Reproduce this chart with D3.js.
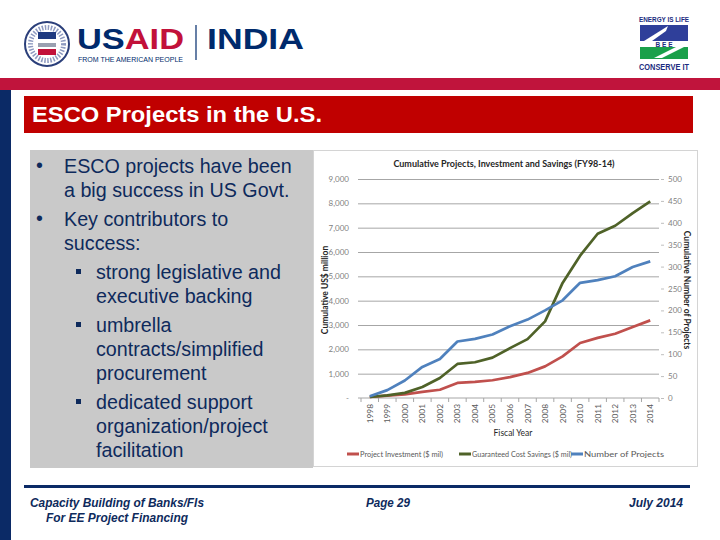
<!DOCTYPE html>
<html>
<head>
<meta charset="utf-8">
<script src="https://cdn.jsdelivr.net/npm/d3@7"></script>
<style>
  body { margin: 0; background: #fff; }
  svg { display: block; }
</style>
</head>
<body>
<div id="slide"></div>
<script>
// chart values
const years = ["1998", "1999", "2000", "2001", "2002", "2003", "2004", "2005", "2006",
  "2007", "2008", "2009", "2010", "2011", "2012", "2013", "2014"];
const investment = [40, 100, 150, 250, 340, 620, 660, 730, 860, 1030, 1300, 1710, 2260, 2470, 2640, 2920, 3190];
const savings = [40, 110, 210, 450, 820, 1400, 1470, 1660, 2050, 2420, 3150, 4730, 5850, 6750, 7080, 7600, 8080];
const projects = [4, 18, 40, 71, 89, 129, 135, 145, 164, 179, 200, 223, 263, 269, 278, 299, 312];
const leftTicks = [0, 1000, 2000, 3000, 4000, 5000, 6000, 7000, 8000, 9000];
const rightTicks = [0, 50, 100, 150, 200, 250, 300, 350, 400, 450, 500];
const seriesNames = ["Project Investment ($ mil)", "Guaranteed Cost Savings ($ mil)", "Number of Projects"];
const seriesColors = ["#c0504d", "#4f6228", "#4f81bd"];

const bullets = [
  { level: 1, lines: ["ESCO projects have been", "a big success in US Govt."] },
  { level: 1, lines: ["Key contributors to", "success:"] },
  { level: 2, lines: ["strong legislative and", "executive backing"] },
  { level: 2, lines: ["umbrella", "contracts/simplified", "procurement"] },
  { level: 2, lines: ["dedicated support", "organization/project", "facilitation"] }
];

const navy = "#0e2a5c";
const arial = "Arial, 'Liberation Sans', sans-serif";

const svg = d3.select("#slide").append("svg")
  .attr("width", 720).attr("height", 540);

// ---------- header ----------
const head = svg.append("g");
// seal
head.append("circle").attr("cx", 47).attr("cy", 44).attr("r", 22)
  .attr("fill", "#fff").attr("stroke", "#2b3f7a").attr("stroke-width", 2);
head.append("circle").attr("cx", 47).attr("cy", 44).attr("r", 16.5)
  .attr("fill", "none").attr("stroke", "#8e9ac0").attr("stroke-width", 5).attr("stroke-dasharray", "1.5 1.5");
head.append("rect").attr("x", 38).attr("y", 32).attr("width", 18).attr("height", 7).attr("fill", "#1f3a80");
head.append("rect").attr("x", 38).attr("y", 43).attr("width", 18).attr("height", 4).attr("fill", "#9aa0b0");
head.append("rect").attr("x", 38).attr("y", 49).attr("width", 18).attr("height", 6).attr("fill", "#c2113a");
head.append("text").attr("x", 77).attr("y", 49)
  .attr("textLength", 107).attr("lengthAdjust", "spacingAndGlyphs")
  .style("font-family", arial).style("font-weight", "bold").style("font-size", "30px")
  .call(t => {
    t.append("tspan").attr("fill", "#002a6c").text("US");
    t.append("tspan").attr("fill", "#c2113a").text("AID");
  });
head.append("text").attr("x", 78).attr("y", 62)
  .attr("textLength", 105).attr("lengthAdjust", "spacingAndGlyphs")
  .style("font-family", arial).style("font-size", "6.5px")
  .attr("fill", "#002a6c").text("FROM THE AMERICAN PEOPLE");
head.append("line").attr("x1", 196).attr("x2", 196).attr("y1", 25).attr("y2", 60)
  .attr("stroke", "#002a6c").attr("stroke-width", 1.2);
head.append("text").attr("x", 207).attr("y", 49)
  .attr("textLength", 97).attr("lengthAdjust", "spacingAndGlyphs")
  .style("font-family", arial).style("font-weight", "bold")
  .style("font-size", "30px").attr("fill", "#002a6c").text("INDIA");

// BEE logo
const bee = svg.append("g");
bee.append("text").attr("x", 664).attr("y", 22).attr("text-anchor", "middle")
  .attr("textLength", 50).attr("lengthAdjust", "spacingAndGlyphs")
  .style("font-family", arial).style("font-weight", "bold")
  .style("font-size", "8px").attr("fill", "#1c2c80").text("ENERGY IS LIFE");
bee.append("rect").attr("x", 640).attr("y", 25).attr("width", 48).attr("height", 16).attr("fill", "#2f3f9a");
bee.append("rect").attr("x", 640).attr("y", 41).attr("width", 48).attr("height", 6).attr("fill", "#fff");
bee.append("rect").attr("x", 640).attr("y", 47).attr("width", 48).attr("height", 12).attr("fill", "#1aa04a");
bee.append("path").attr("d", "M668,26 L644,41 L652,41 L666,31 Z").attr("fill", "#fff");
bee.append("path").attr("d", "M676,47 L654,58 L662,58 L684,47 Z").attr("fill", "#fff");
bee.append("text").attr("x", 664).attr("y", 46.5).attr("text-anchor", "middle")
  .style("font-family", arial).style("font-weight", "bold").style("font-size", "6.5px")
  .attr("fill", "#1c2c80").text("B E E");
bee.append("text").attr("x", 664).attr("y", 70).attr("text-anchor", "middle")
  .attr("textLength", 50).attr("lengthAdjust", "spacingAndGlyphs")
  .style("font-family", arial).style("font-weight", "bold")
  .style("font-size", "8.5px").attr("fill", "#1c2c80").text("CONSERVE IT");

// red band, navy side bar, title box
svg.append("rect").attr("x", 0).attr("y", 78).attr("width", 720).attr("height", 12).attr("fill", "#c0143c");
svg.append("rect").attr("x", 0).attr("y", 90).attr("width", 11).attr("height", 450).attr("fill", "#0b2a66");
svg.append("rect").attr("x", 24).attr("y", 96).attr("width", 669).attr("height", 37).attr("fill", "#c00000");
svg.append("text").attr("x", 32).attr("y", 122)
  .attr("textLength", 290).attr("lengthAdjust", "spacingAndGlyphs")
  .style("font-family", arial).style("font-size", "22px")
  .style("font-weight", "bold").attr("fill", "#fff").text("ESCO Projects in the U.S.");

// ---------- bullet panel ----------
svg.append("rect").attr("x", 30).attr("y", 150).attr("width", 283).attr("height", 318).attr("fill", "#c9c9c9");
const txt = svg.append("g")
  .style("font-family", arial).style("font-size", "19.7px").attr("fill", navy);
let yy = 173;
bullets.forEach((b, i) => {
  if (i > 0) yy += 5;
  if (b.level === 1) {
    txt.append("text").attr("x", 36).attr("y", yy - 1).text("•");
  } else {
    txt.append("rect").attr("x", 76).attr("y", yy - 10).attr("width", 5).attr("height", 5).attr("fill", navy);
  }
  b.lines.forEach(l => {
    txt.append("text").attr("x", b.level === 1 ? 64 : 96).attr("y", yy).text(l);
    yy += 24;
  });
});

// ---------- chart ----------
svg.append("rect").attr("x", 313.5).attr("y", 150.5).attr("width", 384).attr("height", 316)
  .attr("fill", "#fff").attr("stroke", "#d4d4d4");

const chartFont = "Lato, 'Open Sans', sans-serif";
const x = d3.scalePoint().domain(years).range([361, 659]).padding(0.5);
const yL = d3.scaleLinear().domain([0, 9000]).range([398, 179]);
const yR = d3.scaleLinear().domain([0, 500]).range([398, 179]);
const left = 358, right = 659;

// gridlines
svg.append("g").attr("transform", `translate(${left},0)`)
  .call(d3.axisLeft(yL).tickValues(leftTicks.slice(1)).tickSize(-(right - left)).tickFormat(""))
  .call(g => g.select(".domain").remove())
  .call(g => g.selectAll("line").attr("stroke", "#a6a6a6"));

// left axis labels
svg.append("g").attr("transform", `translate(${left - 6},0)`)
  .call(d3.axisLeft(yL).tickValues(leftTicks).tickSize(0)
    .tickFormat(d => d === 0 ? "-" : d3.format(",")(d)))
  .call(g => g.select(".domain").remove())
  .call(g => g.selectAll("text").attr("fill", "#7f7f7f").style("font-family", chartFont).style("font-size", "8px"));

// right axis
svg.append("g").attr("transform", `translate(${right + 2},0)`)
  .call(d3.axisRight(yR).tickValues(rightTicks).tickSize(3).tickPadding(4))
  .call(g => g.select(".domain").remove())
  .call(g => g.selectAll("line").attr("stroke", "#bfbfbf"))
  .call(g => g.selectAll("text").attr("fill", "#7f7f7f").style("font-family", chartFont).style("font-size", "8px"));

// x axis baseline, category ticks, labels
svg.append("line").attr("x1", left).attr("x2", right).attr("y1", yL(0)).attr("y2", yL(0)).attr("stroke", "#a6a6a6");
svg.append("g").selectAll("line").data(years.concat(["end"])).join("line")
  .attr("x1", (d, i) => x(years[0]) + (i - 0.5) * x.step())
  .attr("x2", (d, i) => x(years[0]) + (i - 0.5) * x.step())
  .attr("y1", yL(0)).attr("y2", yL(0) + 4).attr("stroke", "#a6a6a6");
svg.append("g").selectAll("text").data(years).join("text")
  .attr("transform", d => `translate(${x(d) + 3},404) rotate(-90)`)
  .attr("text-anchor", "end")
  .style("font-family", chartFont).style("font-size", "8.3px").attr("fill", "#595959")
  .text(d => d);

// series lines
const series = [investment, savings, projects];
const scales = [yL, yL, yR];
series.forEach((vals, s) => {
  const line = d3.line().x((d, i) => x(years[i])).y(d => scales[s](d));
  svg.append("path").datum(vals).attr("d", line)
    .attr("fill", "none").attr("stroke", seriesColors[s]).attr("stroke-width", 2.7)
    .attr("stroke-linejoin", "round");
});

// titles
svg.append("text").attr("x", 504).attr("y", 167).attr("text-anchor", "middle")
  .style("font-family", chartFont).style("font-weight", "bold").style("font-size", "9px")
  .attr("fill", "#262626").text("Cumulative Projects, Investment and Savings (FY98-14)");
svg.append("text").attr("transform", "translate(328,290) rotate(-90)").attr("text-anchor", "middle")
  .style("font-family", chartFont).style("font-weight", "bold").style("font-size", "8.5px")
  .attr("fill", "#262626").text("Cumulative US$ million");
svg.append("text").attr("transform", "translate(684,290) rotate(90)").attr("text-anchor", "middle")
  .style("font-family", chartFont).style("font-weight", "bold").style("font-size", "8.5px")
  .attr("fill", "#262626").text("Cumulative Number of Projects");
svg.append("text").attr("x", 513).attr("y", 436).attr("text-anchor", "middle")
  .style("font-family", chartFont).style("font-size", "8.5px")
  .attr("fill", "#262626").text("Fiscal Year");

// legend
const legX = [347, 459, 571];
const legW = [83, 100, 80];
const leg = svg.append("g").selectAll("g").data(seriesNames).join("g")
  .attr("transform", (d, i) => `translate(${legX[i]},454)`);
leg.append("line").attr("x1", 0).attr("x2", 12).attr("y1", 0).attr("y2", 0)
  .attr("stroke", (d, i) => seriesColors[i]).attr("stroke-width", 3);
leg.append("text").attr("x", 13).attr("y", 3)
  .attr("textLength", (d, i) => legW[i]).attr("lengthAdjust", "spacingAndGlyphs")
  .style("font-family", chartFont).style("font-size", "8px").attr("fill", "#595959")
  .text(d => d);

// ---------- footer ----------
svg.append("rect").attr("x", 24).attr("y", 485).attr("width", 666).attr("height", 3).attr("fill", "#0b2a66");
const foot = svg.append("g")
  .style("font-family", arial).attr("lengthAdjust", "spacingAndGlyphs")
  .style("font-style", "italic").style("font-weight", "bold").style("font-size", "12.5px").attr("fill", navy);
const footTexts = [
  { t: "Capacity Building of Banks/FIs", x: 30, y: 507, w: 174 },
  { t: "For EE Project Financing", x: 46, y: 522, w: 142 },
  { t: "Page 29", x: 366, y: 507, w: 44 },
  { t: "July 2014", x: 629, y: 507, w: 54 }
];
foot.selectAll("text").data(footTexts).join("text")
  .attr("x", d => d.x).attr("y", d => d.y)
  .attr("textLength", d => d.w).attr("lengthAdjust", "spacingAndGlyphs")
  .text(d => d.t);
</script>
</body>
</html>
